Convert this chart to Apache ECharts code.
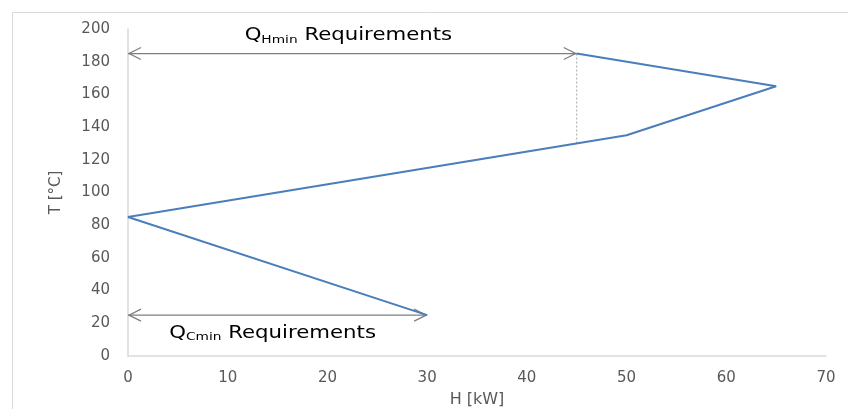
<!DOCTYPE html>
<html><head><meta charset="utf-8">
<script src="https://cdn.jsdelivr.net/npm/echarts@6/dist/echarts.min.js"></script>
<style>html,body{margin:0;padding:0;background:#fff}#c{width:848px;height:409px}</style>
</head><body><div id="c"></div>
<script>
const H = [45, 65, 50, 0, 30];
const T = [185, 165, 135, 85, 25];
const xTicks = [0, 10, 20, 30, 40, 50, 60, 70];
const yTicks = [0, 20, 40, 60, 80, 100, 120, 140, 160, 180, 200];
// arrows: [xStart, xEnd, y]
const arrows = [[0, 45, 185], [0, 30, 25]];
// dotted guide: [x, yTop, yBottom]
const guide = [[45, 185, 130]];
// labels: [x, y, main, sub, rest]
const labels = [[22.1, 195.7, 'Q', 'Hmin', ' Requirements'], [14.5, 14, 'Q', 'Cmin', ' Requirements']];

const chart = echarts.init(document.getElementById('c'), null, {renderer: 'canvas'});
const gray = '#7f7f7f';
const font = 'DejaVu Sans, sans-serif';
chart.setOption({
  animation: false,
  graphic: [{type: 'rect', shape: {x: 12.5, y: 12.5, width: 840, height: 400}, style: {fill: 'none', stroke: '#d9d9d9', lineWidth: 1}, silent: true}],
  grid: {left: 128, right: 22, top: 29, bottom: 53, containLabel: false, outerBoundsMode: 'none'},
  xAxis: {
    type: 'value', min: 0, max: 70, interval: 10,
    name: 'H [kW]', nameLocation: 'middle', nameGap: 36,
    nameTextStyle: {color: '#595959', fontSize: 16, fontFamily: font},
    axisLine: {show: true, lineStyle: {color: '#d9d9d9', width: 1.5}},
    axisTick: {show: false}, splitLine: {show: false},
    axisLabel: {color: '#595959', fontSize: 15, fontFamily: font, margin: 15}
  },
  yAxis: {
    type: 'value', min: 0, max: 200, interval: 20,
    name: 'T [°C]', nameLocation: 'middle', nameGap: 64, nameRotate: 90,
    nameTextStyle: {color: '#595959', fontSize: 15, fontFamily: font},
    axisLine: {show: true, lineStyle: {color: '#d9d9d9', width: 1.5}},
    axisTick: {show: false}, splitLine: {show: false},
    axisLabel: {color: '#595959', fontSize: 15, fontFamily: font, margin: 18}
  },
  series: [
    {
      type: 'line', data: H.map((h, i) => [h, T[i]]), symbol: 'none',
      lineStyle: {color: '#4a7ebb', width: 2}, z: 3
    },
    {
      type: 'custom', data: guide, z: 2,
      renderItem: function (params, api) {
        const a = api.coord([api.value(0), api.value(1)]);
        const b = api.coord([api.value(0), api.value(2)]);
        return {type: 'line', shape: {x1: a[0], y1: a[1], x2: b[0], y2: b[1]}, style: {stroke: '#a6a6a6', lineWidth: 1, lineDash: [2, 2]}};
      }
    },
    {
      type: 'custom', data: arrows, z: 2,
      renderItem: function (params, api) {
        const a = api.coord([api.value(0), api.value(2)]);
        const b = api.coord([api.value(1), api.value(2)]);
        const s = {stroke: gray, lineWidth: 1.3, fill: 'none'};
        const hl = 13, hw = 6;
        return {type: 'group', children: [
          {type: 'line', shape: {x1: a[0], y1: a[1], x2: b[0], y2: b[1]}, style: s},
          {type: 'polyline', shape: {points: [[a[0] + hl, a[1] - hw], [a[0] + 1, a[1]], [a[0] + hl, a[1] + hw]]}, style: s},
          {type: 'polyline', shape: {points: [[b[0] - hl, b[1] - hw], [b[0] - 1, b[1]], [b[0] - hl, b[1] + hw]]}, style: s}
        ]};
      }
    },
    {
      type: 'custom', data: labels, z: 4,
      renderItem: function (params, api) {
        const p = api.coord([api.value(0), api.value(1)]);
        const d = labels[params.dataIndex];
        return {type: 'text', x: p[0], y: p[1], scaleX: 1.25, style: {
          text: '{m|' + d[2] + '}{s|' + d[3] + '}{m|' + d[4] + '}',
          align: 'center', verticalAlign: 'middle',
          rich: {
            m: {fontSize: 17, fontFamily: font, fill: '#000', verticalAlign: 'middle'},
            s: {fontSize: 11, fontFamily: font, fill: '#000', padding: [8, 0, 0, 0]}
          }
        }};
      }
    }
  ]
});
</script></body></html>
